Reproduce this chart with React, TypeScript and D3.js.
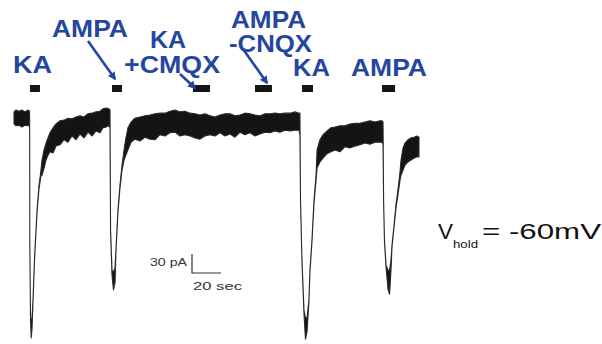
import React from 'react';
import * as d3 from 'd3';

// Time (s) and current envelope (pA) of the whole-cell recording
const traceTime = [
  0, 1.4, 3.4, 5.5, 7.6, 9.7, 10.7,
  10.8, 10.9, 11.4, 11.9, 12.4, 13.1, 14.1, 14.8, 15.9, 17.2, 18.6,
  19.3, 20.7, 22.1, 23.4, 24.8, 26.9, 29.0, 31.7, 34.5, 37.2, 40.0, 42.8, 45.5, 48.3, 51.0, 53.8, 56.6, 59.3, 61.4, 63.4, 65.5,
  66.2, 66.6, 67.6, 68.6, 69.7, 70.3, 71.0, 71.7, 73.1, 74.5,
  75.9, 77.2, 78.6, 80.7, 83.4, 86.9, 90.3, 93.8, 97.2, 100.7, 104.1, 107.6, 111.0, 114.5, 117.9, 121.4, 124.8, 128.3, 131.7, 135.2, 138.6, 142.1,
  145.5, 149.0, 152.4, 155.9, 159.3, 162.8, 166.2, 169.7, 173.1, 176.6, 180.0, 183.4, 186.9, 190.3, 193.8, 196.6,
  197.2, 197.6, 198.6, 200.0, 201.0, 202.1, 203.4, 204.1, 205.5, 206.9, 208.3,
  209.0, 211.0, 213.1, 215.9, 218.6, 221.4, 224.8, 228.3, 231.7, 235.2, 238.6, 242.1, 245.5, 249.0, 252.4, 253.8,
  254.5, 254.9, 255.5, 256.6, 258.0, 259.0, 260.0, 260.7, 262.1, 263.4, 264.8, 266.2,
  266.9, 268.3, 269.7, 271.7, 273.8, 275.9, 277.9, 279.3,
];
const traceUpper = [
  -3, 0, -2, 0, -3, 0, -2,
  -13, -205, -328, -335, -328, -300, -237, -205, -158, -120, -95,
  -79, -63, -52, -44, -36, -28, -22, -17, -16, -13, -14, -11, -9, -11, -6, -5, -3, -2, 2, 3, 2,
  0, -189, -253, -256, -249, -221, -189, -158, -118, -87,
  -63, -44, -28, -19, -13, -11, -9, -8, -6, -5, -5, -2, 0, -3, -2, -5, -6, -8, -6, -9, -11, -8,
  -6, -6, -9, -8, -5, -6, -8, -9, -6, -6, -5, -6, -5, -5, -3, -5,
  -5, -142, -237, -316, -328, -328, -300, -253, -205, -142, -103,
  -63, -47, -39, -33, -28, -27, -25, -25, -22, -21, -21, -19, -17, -19, -17, -17,
  -19, -142, -205, -245, -253, -253, -237, -213, -182, -150, -126, -98,
  -79, -60, -52, -47, -44, -43, -41, -43,
];
const traceLower = [
  -22, -25, -24, -27, -24, -25, -24,
  -32, -208, -335, -360, -347, -303, -240, -208, -161, -125, -104,
  -103, -92, -79, -72, -66, -68, -57, -55, -47, -51, -41, -47, -38, -44, -35, -41, -33, -36, -28, -27, -25,
  -28, -193, -261, -284, -272, -224, -193, -161, -123, -95,
  -79, -71, -63, -51, -46, -49, -43, -46, -47, -39, -41, -36, -35, -41, -39, -41, -44, -46, -41, -39, -41, -36,
  -41, -38, -43, -35, -39, -36, -41, -38, -35, -36, -33, -35, -32, -33, -32, -32,
  -40, -145, -240, -322, -362, -350, -303, -256, -208, -147, -111,
  -92, -82, -76, -69, -66, -63, -66, -58, -60, -57, -55, -52, -54, -51, -51, -51,
  -55, -145, -208, -249, -284, -291, -253, -216, -185, -155, -134, -111,
  -103, -95, -87, -82, -79, -76, -74, -74,
];

// Drug application periods (s)
const drugOn = [11.0, 67.6, 123.4, 166.2, 198.6, 253.8];
const drugOff = [17.9, 74.5, 135.2, 177.9, 206.2, 262.8];

// Annotation labels
const labelTexts = ['KA', 'AMPA', 'KA', '+CMQX', 'AMPA', '-CNQX', 'KA', 'AMPA'];
const labelX = [13, 52, 150, 124, 231, 229, 293, 351];
const labelY = [73, 37, 48, 73, 28, 52, 76, 76];
const labelW = [39, 76, 36, 96, 75, 83, 37, 76];

// Arrows from labels to application bars
const arrowFrom = [[88, 41], [180, 74], [243, 49]];
const arrowTo = [[115, 79], [195, 88], [267, 83]];

const scaleCurrent = 30; // pA
const scaleTime = 20; // s
const holdText = '= -60mV';

const BLUE = '#2446a0';

export default function App() {
  const x = d3.scaleLinear().domain([0, 405]).range([14, 14 + 405 * 1.45]);
  const y = d3.scaleLinear().domain([0, -360]).range([110, 338]);
  const idx = d3.range(traceTime.length);
  const area = d3
    .area<number>()
    .x((i) => x(traceTime[i]))
    .y0((i) => y(traceLower[i]))
    .y1((i) => y(traceUpper[i]));

  const sbX = 192;
  const sbY = 273;
  const sbH = y(-scaleCurrent) - y(0);
  const sbW = x(scaleTime) - x(0);

  return (
    <svg
      width={602}
      height={344}
      style={{ position: 'absolute', left: 0, top: 0, background: '#fff' }}
      fontFamily="'Liberation Sans', Arial, sans-serif"
    >
      <defs>
        <marker id="ah" viewBox="0 0 10 10" refX="8" refY="5" markerWidth="3.2" markerHeight="3.2" orient="auto">
          <path d="M0,0 L10,5 L0,10 z" fill={BLUE} />
        </marker>
      </defs>
      <rect width={602} height={344} fill="#fff" />
      {/* trace */}
      <path d={area(idx) || ''} fill="#141414" stroke="#2a2a2a" strokeWidth={1.1} strokeLinejoin="round" />
      {/* application bars */}
      {drugOn.map((t, i) => (
        <rect key={i} x={x(t)} y={85} width={x(drugOff[i]) - x(t)} height={7} fill="#151515" />
      ))}
      {/* labels */}
      {labelTexts.map((s, i) => (
        <text
          key={i}
          x={labelX[i]}
          y={labelY[i]}
          fontSize={23}
          fontWeight="bold"
          fill={BLUE}
          textLength={labelW[i]}
          lengthAdjust="spacingAndGlyphs"
        >
          {s}
        </text>
      ))}
      {arrowFrom.map((p, i) => (
        <line
          key={i}
          x1={p[0]}
          y1={p[1]}
          x2={arrowTo[i][0]}
          y2={arrowTo[i][1]}
          stroke={BLUE}
          strokeWidth={2.6}
          markerEnd="url(#ah)"
        />
      ))}
      {/* scale bar */}
      <path
        d={`M${sbX},${sbY - sbH} L${sbX},${sbY} L${sbX + sbW},${sbY}`}
        fill="none"
        stroke="#333"
        strokeWidth={1.2}
      />
      <text x={150} y={266} fontSize={10} fill="#333" textLength={37} lengthAdjust="spacingAndGlyphs">
        {`${scaleCurrent} pA`}
      </text>
      <text x={193} y={290} fontSize={11} fill="#333" textLength={49} lengthAdjust="spacingAndGlyphs">
        {`${scaleTime} sec`}
      </text>
      {/* holding potential */}
      <text x={438} y={239} fontSize={22} fill="#111" textLength={15} lengthAdjust="spacingAndGlyphs">
        V
      </text>
      <text x={453} y={248} fontSize={10} fill="#111" textLength={25} lengthAdjust="spacingAndGlyphs">
        hold
      </text>
      <text x={482} y={239} fontSize={22} fill="#111" textLength={119} lengthAdjust="spacingAndGlyphs">
        {holdText}
      </text>
    </svg>
  );
}
